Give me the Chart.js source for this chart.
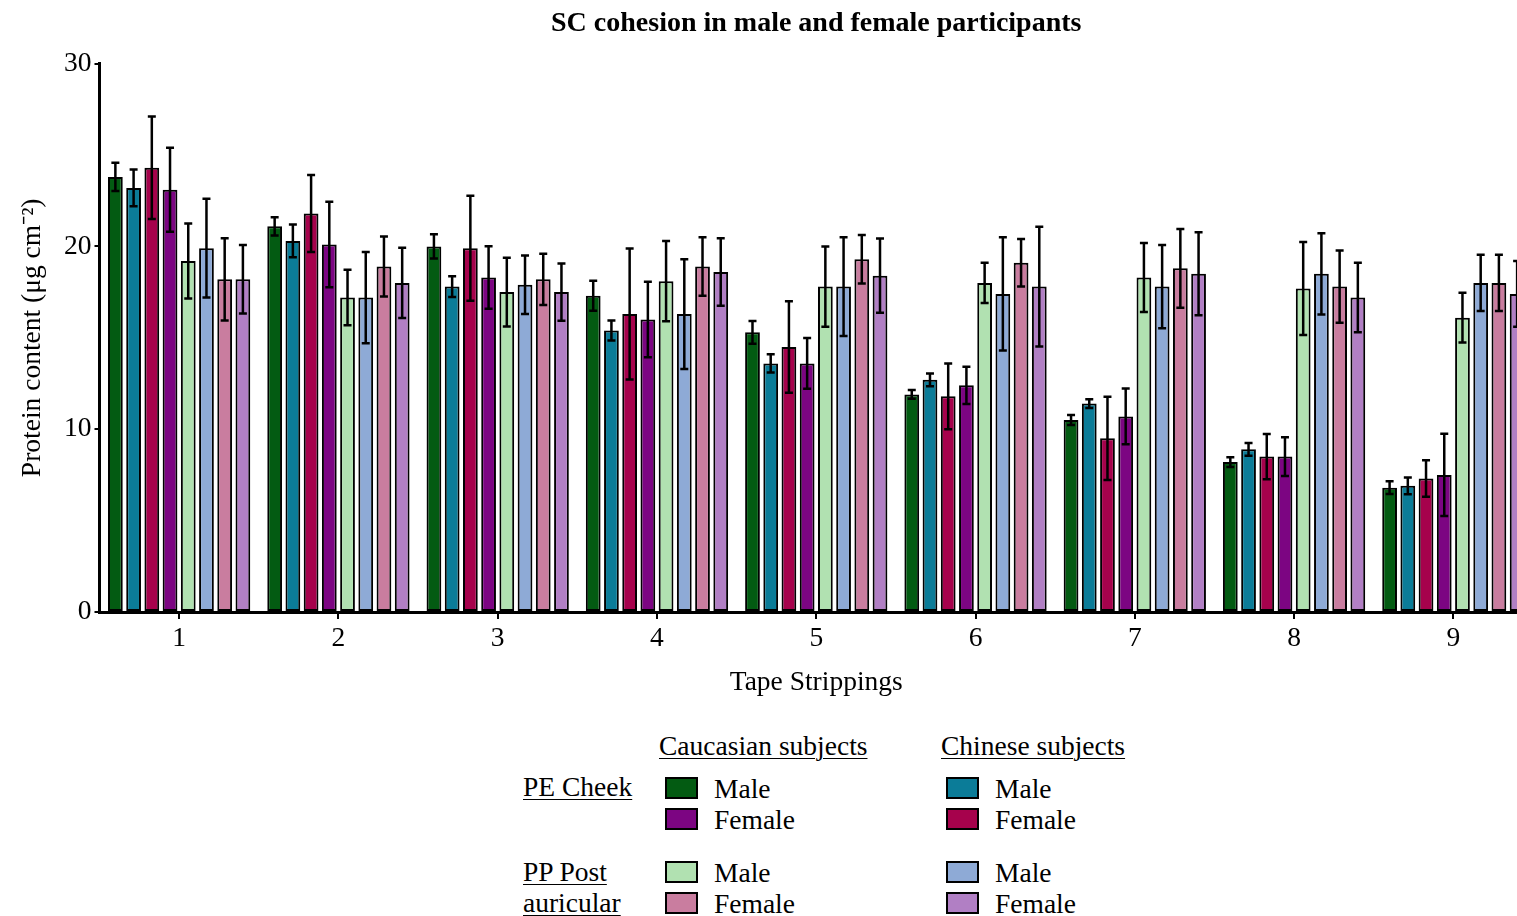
<!DOCTYPE html>
<html>
<head>
<meta charset="utf-8">
<title>SC cohesion in male and female participants</title>
<script src="https://cdn.jsdelivr.net/npm/chart.js@4/dist/chart.umd.min.js"></script>
<style>
  html, body { margin: 0; padding: 0; background: #fff; overflow: hidden; }
  body { width: 1517px; height: 916px; position: relative; font-family: "Liberation Serif", "Times New Roman", serif; color: #000; }
  #wrap { position: absolute; left: 0; top: 0; width: 1540px; height: 703px; }
  .lg { position: absolute; font-size: 27.5px; line-height: 33px; white-space: nowrap; }
  .u { text-decoration: underline; text-decoration-thickness: 1px; text-underline-offset: 3px; }
  .sw { position: absolute; width: 29px; height: 18px; border: 2px solid #000; }
</style>
</head>
<body>
<div id="wrap"><canvas id="chart"></canvas></div>

<div class="lg u" style="left:659px; top:729px;">Caucasian subjects</div>
<div class="lg u" style="left:941px; top:729px;">Chinese subjects</div>

<div class="lg u" style="left:523px; top:770px;">PE Cheek</div>
<div class="lg u" style="left:523px; top:855px;">PP Post</div>
<div class="lg u" style="left:523px; top:886px;">auricular</div>

<div id="legend"></div>

<script>
// tape strip numbers
const strips = ["1", "2", "3", "4", "5", "6", "7", "8", "9"];

// mean protein content (ug cm-2), bar order inside each group
const cauMalePE   = [23.8, 21.1, 20.0, 17.3, 15.3, 11.9, 10.5, 8.2, 6.8];
const chiMalePE   = [23.2, 20.3, 17.8, 15.4, 13.6, 12.7, 11.4, 8.9, 6.9];
const chiFemalePE = [24.3, 21.8, 19.9, 16.3, 14.5, 11.8, 9.5, 8.5, 7.3];
const cauFemalePE = [23.1, 20.1, 18.3, 16.0, 13.6, 12.4, 10.7, 8.5, 7.5];
const cauMalePP   = [19.2, 17.2, 17.5, 18.1, 17.8, 18.0, 18.3, 17.7, 16.1];
const chiMalePP   = [19.9, 17.2, 17.9, 16.3, 17.8, 17.4, 17.8, 18.5, 18.0];
const cauFemalePP = [18.2, 18.9, 18.2, 18.9, 19.3, 19.1, 18.8, 17.8, 18.0];
const chiFemalePP = [18.2, 18.0, 17.5, 18.6, 18.4, 17.8, 18.5, 17.2, 17.4];

// error bar half lengths
const cauMalePEErr   = [0.77, 0.50, 0.66, 0.82, 0.62, 0.24, 0.27, 0.27, 0.35];
const chiMalePEErr   = [1.00, 0.90, 0.57, 0.55, 0.50, 0.35, 0.24, 0.35, 0.46];
const chiFemalePEErr = [2.80, 2.10, 2.87, 3.58, 2.50, 1.80, 2.28, 1.24, 1.00];
const cauFemalePEErr = [2.30, 2.34, 1.71, 2.07, 1.39, 1.02, 1.53, 1.06, 2.25];
const cauMalePPErr   = [2.05, 1.52, 1.88, 2.20, 2.20, 1.10, 1.89, 2.54, 1.36];
const chiMalePPErr   = [2.70, 2.50, 1.60, 3.00, 2.70, 3.10, 2.28, 2.22, 1.54];
const cauFemalePPErr = [2.25, 1.64, 1.40, 1.60, 1.33, 1.30, 2.15, 1.97, 1.54];
const chiFemalePPErr = [1.87, 1.92, 1.57, 1.85, 2.03, 3.27, 2.27, 1.90, 1.80];

const yTicks = [0, 10, 20, 30];

const series = [
    { label: "Caucasian PE Cheek Male",   data: cauMalePE,   err: cauMalePEErr,   color: "#035b12" },
    { label: "Chinese PE Cheek Male",     data: chiMalePE,   err: chiMalePEErr,   color: "#0b7c98" },
    { label: "Chinese PE Cheek Female",   data: chiFemalePE, err: chiFemalePEErr, color: "#a6024c" },
    { label: "Caucasian PE Cheek Female", data: cauFemalePE, err: cauFemalePEErr, color: "#7c0582" },
    { label: "Caucasian PP Male",         data: cauMalePP,   err: cauMalePPErr,   color: "#b1e1b1" },
    { label: "Chinese PP Male",           data: chiMalePP,   err: chiMalePPErr,   color: "#8eaad6" },
    { label: "Caucasian PP Female",       data: cauFemalePP, err: cauFemalePPErr, color: "#c97d9f" },
    { label: "Chinese PP Female",         data: chiFemalePP, err: chiFemalePPErr, color: "#b17fc4" }
];

const serif = "'Liberation Serif', 'Times New Roman', serif";
Chart.defaults.font.family = serif;
Chart.defaults.color = "#000";

// draws mean +/- error whiskers on top of every bar
const errorBars = {
    id: "errorBars",
    afterDatasetsDraw(chart) {
        const c = chart.ctx;
        const y = chart.scales.y;
        c.save();
        c.strokeStyle = "#000";
        c.lineWidth = 2.5;
        chart.data.datasets.forEach((ds, i) => {
            const meta = chart.getDatasetMeta(i);
            meta.data.forEach((bar, j) => {
                const v = ds.data[j], e = series[i].err[j];
                const top = y.getPixelForValue(v + e);
                const bot = y.getPixelForValue(v - e);
                c.beginPath();
                c.moveTo(bar.x, top); c.lineTo(bar.x, bot);
                c.moveTo(bar.x - 4, top); c.lineTo(bar.x + 4, top);
                c.moveTo(bar.x - 4, bot); c.lineTo(bar.x + 4, bot);
                c.stroke();
            });
        });
        c.restore();
    }
};

const ctx = document.querySelector("#chart")?.getContext("2d");

new Chart(ctx, {
    type: "bar",
    data: {
        labels: strips,
        datasets: series.map(s => ({
            label: s.label,
            data: s.data,
            backgroundColor: s.color,
            borderColor: "#000",
            borderWidth: 2,
            borderSkipped: false,
            categoryPercentage: 0.915,
            barPercentage: 0.81
        }))
    },
    options: {
        responsive: true,
        maintainAspectRatio: false,
        animation: false,
        layout: { padding: { left: 0, right: 7, top: 0, bottom: 0 } },
        plugins: {
            legend: { display: false },
            tooltip: { enabled: false },
            title: {
                display: true,
                text: "SC cohesion in male and female participants",
                fullSize: false,
                font: { family: serif, size: 28, weight: "bold" },
                color: "#000",
                padding: { top: 7, bottom: 23 }
            }
        },
        scales: {
            x: {
                grid: { display: true, drawOnChartArea: false, offset: false, tickLength: 7, color: "#000", lineWidth: 2 },
                border: { display: true, color: "#000", width: 3 },
                ticks: { font: { size: 27.5 }, color: "#000", padding: 3.5, maxRotation: 0 },
                title: { display: true, text: "Tape Strippings", font: { size: 27.5 }, color: "#000", padding: { top: 7, bottom: 4 } }
            },
            y: {
                min: 0,
                max: 30,
                afterBuildTicks: axis => { axis.ticks = yTicks.map(v => ({ value: v })); },
                grid: { display: true, drawOnChartArea: false, tickLength: 5, color: "#000", lineWidth: 2 },
                border: { display: true, color: "#000", width: 3 },
                ticks: { font: { size: 27.5 }, color: "#000", padding: 3 },
                title: { display: true, text: "Protein content (μg cm⁻²)", font: { size: 27.5 }, color: "#000", padding: { top: 16, bottom: 12 } }
            }
        }
    },
    plugins: [errorBars]
});

// legend swatches + labels, two columns (Caucasian / Chinese)
const legendRows = [
    { si: 0, x: 665, y: 788, text: "Male" },
    { si: 3, x: 665, y: 819, text: "Female" },
    { si: 4, x: 665, y: 872, text: "Male" },
    { si: 6, x: 665, y: 903, text: "Female" },
    { si: 1, x: 946, y: 788, text: "Male" },
    { si: 2, x: 946, y: 819, text: "Female" },
    { si: 5, x: 946, y: 872, text: "Male" },
    { si: 7, x: 946, y: 903, text: "Female" }
];
const lg = document.getElementById("legend");
legendRows.forEach(r => {
    const sw = document.createElement("div");
    sw.className = "sw";
    sw.style.left = r.x + "px";
    sw.style.top = (r.y - 11) + "px";
    sw.style.background = series[r.si].color;
    lg.appendChild(sw);
    const t = document.createElement("div");
    t.className = "lg";
    t.style.left = (r.x + 49) + "px";
    t.style.top = (r.y - 16.5) + "px";
    t.textContent = r.text;
    lg.appendChild(t);
});
</script>
</body>
</html>
